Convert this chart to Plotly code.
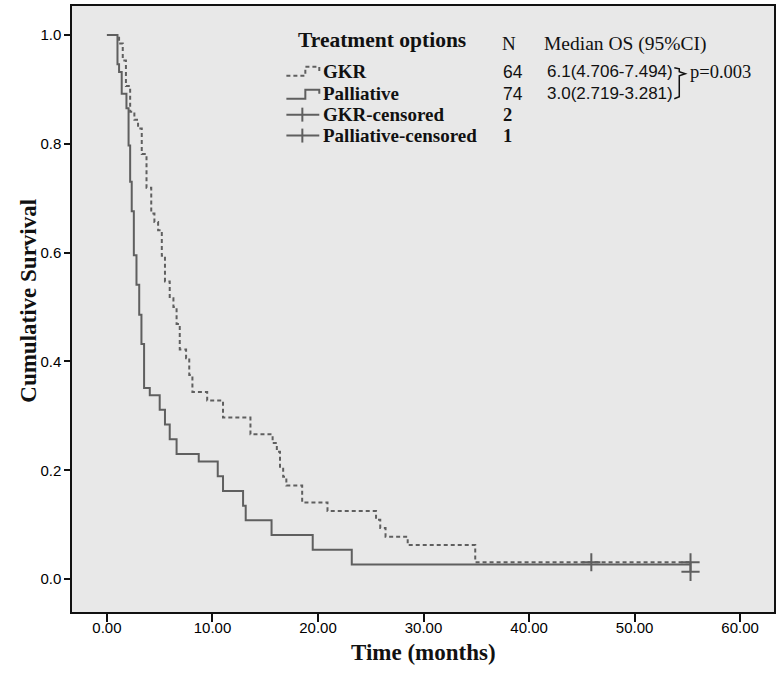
import plotly.graph_objects as go

# Kaplan-Meier step values
gkr_time = [0, 1.15, 1.5, 1.8, 2.2, 2.6, 2.95, 3.3, 3.75, 4.2, 4.5, 4.85, 5.2, 5.5,
            5.95, 6.3, 6.6, 6.9, 7.5, 7.8, 8.1, 9.5, 11.0, 13.6, 15.7, 16.1, 16.4,
            16.7, 17.0, 18.5, 20.9, 25.5, 25.9, 26.4, 28.5, 34.9, 55.3]
gkr_surv = [1.0, 0.984, 0.953, 0.906, 0.859, 0.844, 0.828, 0.781, 0.719, 0.672, 0.656,
            0.641, 0.594, 0.547, 0.516, 0.5, 0.469, 0.422, 0.406, 0.375, 0.344, 0.328,
            0.297, 0.266, 0.25, 0.234, 0.203, 0.188, 0.172, 0.141, 0.125, 0.109, 0.094,
            0.078, 0.0625, 0.031, 0.031]

pal_time = [0, 1.0, 1.15, 1.4, 1.85, 2.05, 2.2, 2.35, 2.55, 2.8, 3.06, 3.27, 3.52,
            4.06, 5.0, 5.5, 5.95, 6.6, 8.7, 10.5, 11.0, 12.9, 13.15, 15.6, 19.5,
            23.2, 55.3]
pal_surv = [1.0, 0.946, 0.932, 0.892, 0.865, 0.797, 0.73, 0.676, 0.595, 0.541, 0.486,
            0.432, 0.351, 0.338, 0.311, 0.284, 0.257, 0.23, 0.216, 0.189, 0.162, 0.135,
            0.108, 0.081, 0.054, 0.027, 0.027]

gkr_cens_time = [45.9, 55.3]
gkr_cens_surv = [0.031, 0.031]
pal_cens_time = [55.3]
pal_cens_surv = [0.0135]

x_ticks = [0, 10, 20, 30, 40, 50, 60]
y_ticks = [0.0, 0.2, 0.4, 0.6, 0.8, 1.0]

legend_names = ["GKR", "Palliative", "GKR-censored", "Palliative-censored"]
legend_n = ["64", "74", "2", "1"]
legend_median = ["6.1(4.706-7.494)", "3.0(2.719-3.281)"]
p_value = "p=0.003"

LINE = "#5f5f5f"
INK = "#111"
SERIF = "Liberation Serif, Times New Roman, serif"
SANS = "Liberation Sans, Arial, sans-serif"

# page pixel -> paper coordinates (plot area 72..776 x 4..612)
def px(x):
    return (x - 72) / 704


def py(y):
    return (612 - y) / 608


fig = go.Figure()

fig.add_trace(go.Scatter(
    x=gkr_time, y=gkr_surv, mode="lines", line_shape="hv",
    line=dict(color=LINE, width=2, dash="4px,3px"), showlegend=False
))
fig.add_trace(go.Scatter(
    x=pal_time, y=pal_surv, mode="lines", line_shape="hv",
    line=dict(color=LINE, width=2), showlegend=False
))
fig.add_trace(go.Scatter(
    x=gkr_cens_time, y=gkr_cens_surv, mode="markers",
    marker=dict(symbol="cross-thin", size=13, line=dict(color=LINE, width=2)),
    showlegend=False
))
fig.add_trace(go.Scatter(
    x=pal_cens_time, y=pal_cens_surv, mode="markers",
    marker=dict(symbol="cross-thin", size=13, line=dict(color=LINE, width=2)),
    showlegend=False
))

# legend drawn as a small table
row_y = [70, 92, 113, 134]
ann = [
    dict(x=px(297), y=py(38), text="<b>Treatment options</b>", font=dict(family=SERIF, size=21.5, color=INK)),
    dict(x=px(501), y=py(42), text="N", font=dict(family=SERIF, size=19, color=INK)),
    dict(x=px(543), y=py(42), text="Median OS (95%CI)", font=dict(family=SERIF, size=19.5, color=INK)),
    dict(x=px(690), y=py(70), text=p_value, font=dict(family=SERIF, size=18.5, color=INK)),
]
for i, name in enumerate(legend_names):
    ann.append(dict(x=px(322), y=py(row_y[i]), text="<b>" + name + "</b>",
                    font=dict(family=SERIF, size=19, color=INK)))
    if i < 2:
        ann.append(dict(x=px(502), y=py(row_y[i]), text=legend_n[i],
                        font=dict(family=SANS, size=17.5, color=INK)))
    else:
        ann.append(dict(x=px(502), y=py(row_y[i]), text="<b>" + legend_n[i] + "</b>",
                        font=dict(family=SERIF, size=18.5, color=INK)))
for i, m in enumerate(legend_median):
    ann.append(dict(x=px(546), y=py(row_y[i]), text=m,
                    font=dict(family=SANS, size=17, color=INK)))
for a in ann:
    a.update(xref="paper", yref="paper", xanchor="left", yanchor="middle", showarrow=False)

# axis titles
ann.append(dict(x=px(425), y=py(667), xref="paper", yref="paper", showarrow=False,
                text="<b>Time (months)</b>", font=dict(family=SERIF, size=23, color=INK)))
ann.append(dict(x=px(13), y=py(300), xref="paper", yref="paper", showarrow=False, textangle=-90,
                text="<b>Cumulative Survival</b>", font=dict(family=SERIF, size=23, color=INK)))


def path(points):
    return "M " + " L ".join(f"{px(a)},{py(b)}" for a, b in points)


shapes = [
    dict(type="path", path=path([(287, 74), (306, 74), (306, 65), (320, 65), (320, 70)]),
         line=dict(color=LINE, width=2, dash="4px,3px")),
    dict(type="path", path=path([(287, 97), (306, 97), (306, 88), (320, 88), (320, 92)]),
         line=dict(color=LINE, width=2)),
    dict(type="path", path=path([(287, 113), (320, 113)]), line=dict(color=LINE, width=2)),
    dict(type="path", path=path([(303, 106), (303, 120)]), line=dict(color=LINE, width=2)),
    dict(type="path", path=path([(287, 134), (320, 134)]), line=dict(color=LINE, width=2)),
    dict(type="path", path=path([(303, 127), (303, 141)]), line=dict(color=LINE, width=2)),
    # brace joining the two median rows
    dict(type="path", path=path([(676, 66), (681, 67), (681, 70), (687, 72), (681, 74),
                                 (681, 95), (676, 97)]),
         line=dict(color=INK, width=1.5)),
]
for s in shapes:
    s.update(xref="paper", yref="paper")

fig.update_layout(
    width=780, height=690,
    margin=dict(l=72, r=4, t=4, b=78),
    paper_bgcolor="white",
    plot_bgcolor="#e8e8e8",
    annotations=ann,
    shapes=shapes,
    showlegend=False,
)

axis_style = dict(
    showgrid=False, zeroline=False, showline=True, mirror=True,
    linecolor=INK, linewidth=1.5, ticks="outside", tickcolor=INK,
    tickwidth=1.5, tickfont=dict(family=SANS, size=15, color="#000"),
)
fig.update_xaxes(range=[-3.31, 63.21], tickvals=x_ticks, tickformat=".2f", ticklen=8,
                 ticklabelstandoff=-7, **axis_style)
fig.update_yaxes(range=[-0.0604, 1.0531], tickvals=y_ticks, tickformat=".1f", ticklen=6,
                 **axis_style)

# the page body has a default 8px margin; remove it so the figure sits at the corner
fig.write_html("out.html", config={"displayModeBar": False},
               post_script="document.body.style.margin='0';")
